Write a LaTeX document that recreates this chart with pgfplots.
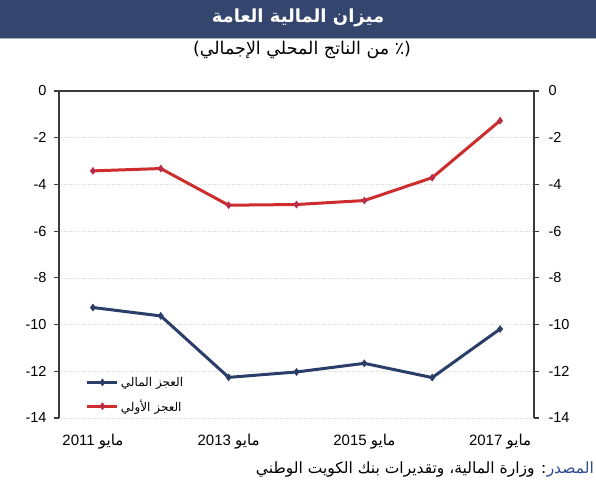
\documentclass[border=0pt]{standalone}
\usepackage{fontspec}
\setmainfont{Liberation Sans}
\newfontfamily\arabicfont[Script=Arabic]{DejaVu Sans}
\TeXXeTstate=1
\usepackage{pgfplots}
\pgfplotsset{compat=1.18}
\definecolor{barblue}{RGB}{52,70,110}
\definecolor{fblue}{RGB}{42,62,105}
\definecolor{fred}{RGB}{205,45,45}
\definecolor{fredmark}{RGB}{185,45,75}
\definecolor{srcblue}{RGB}{45,75,150}
\definecolor{axgray}{RGB}{60,60,60}

\pgfplotstableread{
x fiscal primary
0 -9.27 -3.42
1 -9.63 -3.32
2 -12.26 -4.89
3 -12.03 -4.86
4 -11.66 -4.69
5 -12.27 -3.71
6 -10.19 -1.27
}\datatable

\begin{document}
\begin{tikzpicture}
\fill[barblue] (0pt,462pt) rectangle (596pt,500pt);
\draw[barblue!45!white, line width=1pt] (0pt,461.5pt) -- (596pt,461.5pt);
\node[text=white, font=\arabicfont\bfseries\fontsize{18}{20}\selectfont] at (298pt,482pt) {\beginR ميزان المالية العامة\endR};
\node[font=\arabicfont\fontsize{17.5}{19}\selectfont] at (302pt,450pt) {\beginR(٪ من الناتج المحلي الإجمالي)\endR};

\begin{axis}[
  at={(59pt,82pt)}, anchor=south west,
  scale only axis, width=475pt, height=327pt,
  xmin=-0.5, xmax=6.5, ymin=-14, ymax=0,
  ytick={-14,-12,...,0},
  xtick={0,2,4,6},
  xticklabels={{2011 {\arabicfont مايو}},{2013 {\arabicfont مايو}},{2015 {\arabicfont مايو}},{2017 {\arabicfont مايو}}},
  separate axis lines,
  axis line style={draw=axgray, line width=1.2pt},
  x axis line style={draw=none},
  tick align=outside,
  yticklabel pos=left,
  major tick length=5pt,
  ytick style={draw=axgray, line width=1.2pt},
  xtick style={draw=none},
  ymajorgrids,
  grid style={dotted, black!16, line width=0.6pt},
  /pgf/number format/assume math mode=true,
  yticklabel style={font=\fontsize{14.5}{16}\selectfont, xshift=-4pt},
  xticklabel style={font=\fontsize{15}{17}\selectfont, yshift=-8pt},
  legend style={at={(0.05,0.138)}, anchor=north west, draw=none, fill=none,
    font=\arabicfont\fontsize{12}{13}\selectfont, row sep=8pt},
  legend cell align=left,
  legend image code/.code={\draw[mark repeat=2,mark phase=2,#1] plot coordinates {(0pt,0pt) (15pt,0pt) (30pt,0pt)};},
]
\draw[axgray, line width=1.2pt] (rel axis cs:0,1) -- (rel axis cs:1,1);
\addplot[fblue, line width=3pt, mark=diamond*, mark size=3.5pt, mark options={fblue, line width=0.5pt}] table[x=x, y=fiscal] {\datatable};
\addlegendentry{\beginR العجز المالي\endR}
\addplot[fred, line width=3pt, mark=diamond*, mark size=3.5pt, mark options={fill=fredmark, draw=fredmark, line width=0.5pt}] table[x=x, y=primary] {\datatable};
\addlegendentry{\beginR العجز الأولي\endR}
\end{axis}

\begin{axis}[
  at={(59pt,82pt)}, anchor=south west,
  scale only axis, width=475pt, height=327pt,
  xmin=-0.5, xmax=6.5, ymin=-14, ymax=0,
  ytick={-14,-12,...,0},
  xtick=\empty,
  axis line style={draw=none},
  tick style={draw=none},
  tick align=outside,
  major tick length=5pt,
  yticklabel pos=right,
  /pgf/number format/assume math mode=true,
  yticklabel style={font=\fontsize{14.5}{16}\selectfont, xshift=6pt},
]
\end{axis}

\node[anchor=east, inner sep=0pt, text=srcblue, font=\arabicfont\fontsize{15.5}{17}\selectfont] (src) at (594pt,30pt) {المصدر};
\node[anchor=east, inner sep=0pt, font=\arabicfont\fontsize{15.5}{17}\selectfont] at (src.west) {\beginR: وزارة المالية، وتقديرات بنك الكويت الوطني\endR};

\pgfresetboundingbox
\useasboundingbox (0pt,0pt) rectangle (596pt,500pt);
\end{tikzpicture}
\end{document}
